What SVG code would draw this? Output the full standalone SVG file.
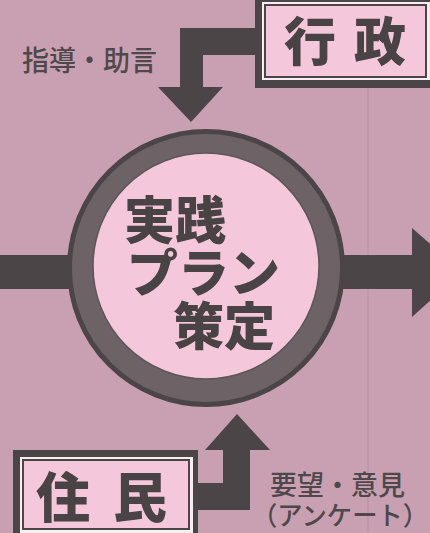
<svg xmlns="http://www.w3.org/2000/svg" width="430" height="533" viewBox="0 0 430 533">
<style>
.dark{fill:#4c4547}
.pink{fill:#f4c8da}
.lbl{font-family:"Noto Sans CJK JP","Noto Sans",sans-serif;fill:#4f484a;font-weight:500}
.big{font-family:"Noto Sans CJK JP","Noto Sans",sans-serif;fill:#4a4345;font-weight:900}
</style>
<rect x="0" y="0" width="430" height="533" fill="#c9a0b2"/>
<line x1="368" y1="0" x2="368" y2="533" stroke="#b8919f" stroke-width="1"/>
<g id="connectors">
<polygon class="dark" points="258,28 180,28 180,87 158,87 191,122 223,87 203,87 203,55 258,55"/>
<polygon class="dark" points="198,483 223,483 223,450 205,450 237,414 270,450 250,450 250,510 198,510"/>
<rect class="dark" x="0" y="255" width="80" height="34"/>
<polygon class="dark" points="330,255 412,255 412,228 462,272 412,317 412,289 330,289"/>
</g>
<g id="gyosei">
<rect class="dark" x="255" y="-6" width="190" height="94"/>
<rect x="262" y="2" width="180" height="78" fill="#f8eef2"/>
<rect class="pink" x="265" y="5" width="161" height="72" stroke="#4c4547" stroke-width="2"/>
<text class="big" x="310" y="61" font-size="52" text-anchor="middle">行</text>
<text class="big" x="380" y="61" font-size="52" text-anchor="middle">政</text>
</g>
<g id="jumin">
<rect class="dark" x="13" y="450" width="185" height="100"/>
<rect x="20" y="457" width="173" height="90" fill="#f8eef2"/>
<rect class="pink" x="23" y="460" width="166" height="69" stroke="#4c4547" stroke-width="2"/>
<text class="big" x="63" y="518" font-size="54" text-anchor="middle">住</text>
<text class="big" x="140" y="518" font-size="54" text-anchor="middle">民</text>
</g>
<g id="plan">
<circle cx="206" cy="268" r="136.5" fill="#6d6366" stroke="#4c4547" stroke-width="5"/>
<circle class="pink" cx="206" cy="266" r="113" stroke="#5e5558" stroke-width="1.5"/>
<text class="big" x="124" y="239" font-size="51">実践</text>
<text class="big" x="127" y="292" font-size="51">プラン</text>
<text class="big" x="173" y="345" font-size="51">策定</text>
</g>
<g id="labels">
<text class="lbl" x="22" y="71" font-size="28" textLength="135" lengthAdjust="spacingAndGlyphs">指導・助言</text>
<text class="lbl" x="270" y="495" font-size="27" textLength="135" lengthAdjust="spacingAndGlyphs">要望・意見</text>
<text class="lbl" x="252" y="525" font-size="26" textLength="176" lengthAdjust="spacingAndGlyphs">（アンケート）</text>
</g>
</svg>
